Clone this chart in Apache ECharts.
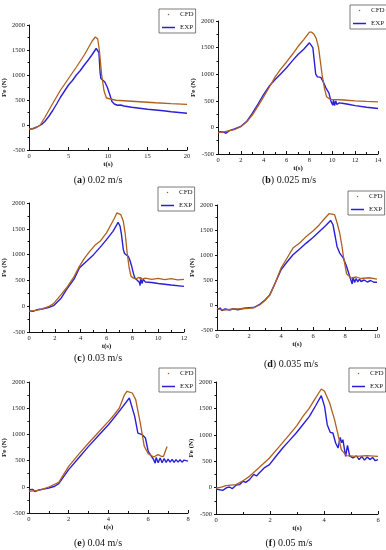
<!DOCTYPE html>
<html>
<head>
<meta charset="utf-8">
<script src="https://cdn.jsdelivr.net/npm/echarts@6/dist/echarts.min.js"></script>
<style>
html,body{margin:0;padding:0;background:#fff;}
#chart{width:386px;height:550px;}
</style>
</head>
<body>
<div id="chart"></div>
<script>
// ---- data: [t (s), Fe (N)] ----
const cfdA = [[0,-80],[0.5,-70],[1,-45],[1.4,-5],[2,150],[3,430],[4,700],[5,930],[6,1160],[7,1400],[8,1680],[8.4,1760],[8.7,1720],[8.9,1500],[9.2,1000],[9.5,680],[9.8,540],[10,510],[11,495],[12,485],[14,465],[16,445],[18,428],[20,413]];
const expA = [[0,-80],[0.5,-75],[1,-40],[1.3,-15],[1.6,10],[2,70],[2.5,170],[3,290],[3.5,420],[4,560],[4.5,680],[5,800],[5.5,890],[6,1000],[6.5,1090],[7,1200],[7.5,1300],[8,1410],[8.5,1530],[8.7,1560],[8.85,1450],[9,1050],[9.1,930],[9.3,910],[9.6,860],[9.9,760],[10.2,620],[10.5,470],[10.8,420],[11.2,395],[11.4,360],[11.6,400],[11.8,370],[12,380],[13,355],[14,335],[15,315],[16,300],[17,285],[18,265],[19,250],[20,235]];

const cfdB = [[0,-100],[0.5,-85],[1,-62],[1.5,-35],[2,12],[2.5,100],[3,231],[3.5,400],[4,580],[4.5,760],[5,950],[5.5,1100],[6,1230],[6.5,1370],[7,1520],[7.5,1650],[8,1790],[8.2,1790],[8.4,1750],[8.6,1669],[8.8,1500],[8.95,1250],[9.1,1000],[9.3,750],[9.5,575],[9.8,531],[10,525],[11,515],[12,500],[13,490],[14,481]];
const expB = [[0,-100],[0.2,-80],[0.3,-115],[0.5,-90],[0.7,-110],[1,-60],[1.5,-25],[2,20],[2.5,110],[3,262],[3.5,440],[4,620],[4.5,780],[5,900],[5.5,1010],[6,1120],[6.5,1250],[7,1370],[7.5,1470],[8,1590],[8.15,1606],[8.3,1500],[8.45,1200],[8.55,1000],[8.7,950],[9,940],[9.2,860],[9.45,740],[9.7,650],[9.9,480],[10.05,420],[10.1,520],[10.2,410],[10.3,500],[10.4,430],[10.6,460],[11,450],[11.5,430],[12,410],[13,380],[14,356]];

const cfdC = [[0,-100],[0.5,-80],[1,-55],[1.5,-10],[1.9,49],[2.5,230],[2.9,352],[3.5,580],[3.9,772],[4.3,930],[4.7,1063],[5.1,1180],[5.5,1257],[6,1420],[6.3,1560],[6.6,1700],[6.8,1807],[7.1,1775],[7.3,1650],[7.45,1400],[7.6,1031],[7.75,750],[7.9,578],[8.1,540],[8.3,530],[8.5,560],[8.7,520],[9,545],[9.5,520],[10,540],[10.5,515],[11,535],[11.5,510],[12,520]];
const expC = [[0,-87],[0.3,-100],[0.6,-70],[1,-55],[1.5,-25],[1.9,10],[2.5,160],[2.9,320],[3.5,530],[3.9,740],[4.5,880],[5,999],[5.5,1140],[6,1290],[6.5,1450],[6.8,1580],[6.9,1625],[7.05,1550],[7.16,1386],[7.3,1100],[7.4,1020],[7.55,999],[7.7,960],[7.8,900],[7.95,773],[8.1,620],[8.2,547],[8.4,500],[8.55,460],[8.6,400],[8.65,560],[8.75,440],[8.85,520],[9,470],[9.5,460],[10,440],[11,410],[12,385]];

const cfdD = [[0,-65],[0.3,-100],[0.6,-98],[1,-80],[1.5,-75],[2,-65],[2.3,-55],[2.67,0],[3,90],[3.3,202],[3.65,450],[4,737],[4.4,950],[4.75,1138],[5.2,1250],[5.58,1372],[6,1480],[6.4,1606],[6.7,1720],[7,1826],[7.35,1806],[7.5,1650],[7.67,1439],[7.8,1200],[7.9,971],[8.1,623],[8.4,536],[8.7,560],[9,530],[9.5,545],[10,516]];
const expD = [[0,-98],[0.1,-130],[0.2,-60],[0.3,-110],[0.5,-80],[0.8,-100],[1,-75],[1.3,-95],[1.6,-70],[2,-52],[2.3,-50],[2.67,15],[3,100],[3.3,202],[3.65,450],[4,703],[4.4,870],[4.75,1004],[5.2,1130],[5.58,1238],[6,1350],[6.4,1472],[6.8,1590],[7.1,1692],[7.25,1605],[7.4,1350],[7.5,1171],[7.67,1038],[7.9,937],[8.1,770],[8.33,536],[8.45,420],[8.5,560],[8.6,450],[8.7,530],[8.8,460],[8.9,520],[9,470],[9.2,500],[9.4,460],[9.6,490],[9.8,455],[10,456]];

const cfdE = [[0,-87],[0.5,-70],[1,-4],[1.5,85],[2,390],[2.5,620],[3,836],[3.5,1040],[4,1249],[4.3,1380],[4.55,1504],[4.8,1750],[4.93,1822],[5.2,1790],[5.37,1663],[5.6,1218],[5.8,773],[6,633],[6.27,569],[6.5,614],[6.65,582],[6.77,582],[6.9,720],[6.95,770]];
const expE = [[0,-55],[0.1,-70],[0.2,-50],[0.3,-90],[0.5,-60],[0.8,-40],[1,-23],[1.3,10],[1.5,60],[2,327],[2.5,550],[3,772],[3.5,980],[4,1185],[4.5,1420],[5.05,1695],[5.12,1676],[5.32,1345],[5.48,1026],[5.7,995],[5.86,931],[6,677],[6.27,518],[6.35,450],[6.4,560],[6.5,460],[6.6,550],[6.7,460],[6.8,540],[6.9,465],[7,530],[7.1,470],[7.2,525],[7.3,465],[7.4,520],[7.5,470],[7.6,515],[7.7,470],[7.8,510],[7.9,475],[8,490]];

const cfdF = [[0,-8],[0.2,10],[0.37,37],[0.74,56],[1,130],[1.24,213],[1.6,380],[1.98,561],[2.35,780],[2.72,1003],[3,1180],[3.22,1350],[3.45,1500],[3.65,1665],[3.9,1867],[4.02,1823],[4.21,1602],[4.39,1287],[4.52,1003],[4.64,719],[4.83,605],[5.2,592],[5.57,605],[6,592]];
const expF = [[0,-27],[0.25,-52],[0.4,0],[0.5,11],[0.6,-20],[0.75,50],[0.87,56],[1,120],[1.1,100],[1.24,150],[1.4,250],[1.5,220],[1.6,277],[1.8,380],[1.98,435],[2.2,580],[2.47,750],[2.7,880],[2.97,1034],[3.2,1180],[3.46,1350],[3.7,1560],[3.9,1741],[4.02,1539],[4.12,1192],[4.23,1047],[4.33,1034],[4.43,845],[4.52,750],[4.6,950],[4.65,850],[4.7,908],[4.8,592],[4.87,800],[4.95,600],[5.07,561],[5.2,600],[5.3,530],[5.4,590],[5.5,520],[5.6,580],[5.7,530],[5.8,570],[5.9,510],[6,529]];

const captionLetters = ['a','b','c','d','e','f'];
const captionSpeeds = ['0.02 m/s','0.025 m/s','0.03 m/s','0.035 m/s','0.04 m/s','0.05 m/s'];
const xMax = [20,14,12,10,8,6];
const xStep = [5,2,2,2,2,2];
const yMin = -500, yMax = 2000, yStep = 500;
const xName = 't(s)', yName = 'Fe (N)';
const seriesNames = ['CFD','EXP'];
const cfdAll = [cfdA,cfdB,cfdC,cfdD,cfdE,cfdF];
const expAll = [expA,expB,expC,expD,expE,expF];

// ---- layout ----
const FONT = "'Liberation Serif','Times New Roman',serif";
const grids = [
  {left:29, top:25, width:158, height:125},
  {left:218, top:21, width:160, height:133},
  {left:29, top:203, width:155, height:129},
  {left:217, top:205, width:160, height:125},
  {left:26, top:382, width:162, height:131},
  {left:216, top:382, width:162, height:132}
];
const legendPos = [[159,9],[350,5],[158,187],[348,191],[159,368],[349,368]];
const captionPos = [[98,175],[289,175],[98,353],[291,359],[98,538],[289,538]];

const CFD_COLOR = '#b0601e';
const EXP_COLOR = '#2b1fd8';

const option = {
  backgroundColor:'#fff',
  animation:false,
  textStyle:{fontFamily:FONT},
  grid: grids,
  xAxis: grids.map((g,i)=>({
    gridIndex:i, type:'value', min:0, max:xMax[i], interval:xStep[i],
    name:xName, nameLocation:'middle', nameGap:11,
    nameTextStyle:{fontFamily:FONT, fontSize:7, fontWeight:'bold', color:'#111'},
    axisLine:{onZero:false, lineStyle:{color:'#111', width:1}},
    axisTick:{inside:true, length:3, lineStyle:{color:'#111'}},
    minorTick:{show:true, splitNumber:2, length:2, lineStyle:{color:'#111'}},
    axisLabel:{fontFamily:FONT, fontSize:6.5, color:'#222', margin:3},
    splitLine:{show:false}
  })),
  yAxis: grids.map((g,i)=>({
    gridIndex:i, type:'value', min:yMin, max:yMax, interval:yStep,
    name:yName, nameLocation:'middle', nameGap:11,
    nameTextStyle:{fontFamily:FONT, fontSize:7, fontWeight:'bold', color:'#111'},
    axisLine:{show:true, lineStyle:{color:'#111', width:1}},
    axisTick:{show:true, inside:false, length:2, lineStyle:{color:'#111'}},
    minorTick:{show:true, splitNumber:2, length:1.5, lineStyle:{color:'#111'}},
    axisLabel:{fontFamily:FONT, fontSize:6.5, color:'#222', margin:4, formatter:v=>String(v)},
    splitLine:{show:false}
  })),
  legend: legendPos.map(p=>({
    left:p[0], top:p[1], orient:'vertical',
    data:[{name:seriesNames[0], icon:'circle'},{name:seriesNames[1], icon:'rect'}],
    itemWidth:13, itemHeight:1.5, itemGap:6,
    padding:[2,2,2,3],
    borderColor:'#444', borderWidth:0.7,
    textStyle:{fontFamily:FONT, fontSize:7, color:'#222'},
    selectedMode:false
  })),
  title: captionPos.map((p,i)=>({
    text:'({b|'+captionLetters[i]+'}) '+captionSpeeds[i],
    left:p[0], top:p[1], textAlign:'center', padding:0,
    textStyle:{fontFamily:FONT, fontSize:10, fontWeight:'normal', color:'#111',
      rich:{b:{fontFamily:FONT, fontSize:10, fontWeight:'bold', color:'#111'}}}
  })),
  series: []
};
for (let i=0;i<6;i++){
  option.series.push({
    name:seriesNames[0], type:'line', xAxisIndex:i, yAxisIndex:i,
    data:cfdAll[i], showSymbol:false, symbol:'none',
    lineStyle:{color:CFD_COLOR, width:1.3}, itemStyle:{color:CFD_COLOR}, z:3
  });
  option.series.push({
    name:seriesNames[1], type:'line', xAxisIndex:i, yAxisIndex:i,
    data:expAll[i], showSymbol:false, symbol:'none',
    lineStyle:{color:EXP_COLOR, width:1.4}, itemStyle:{color:EXP_COLOR}, z:2
  });
}
const chart = echarts.init(document.getElementById('chart'), null, {renderer:'canvas'});
chart.setOption(option);
</script>
</body>
</html>
